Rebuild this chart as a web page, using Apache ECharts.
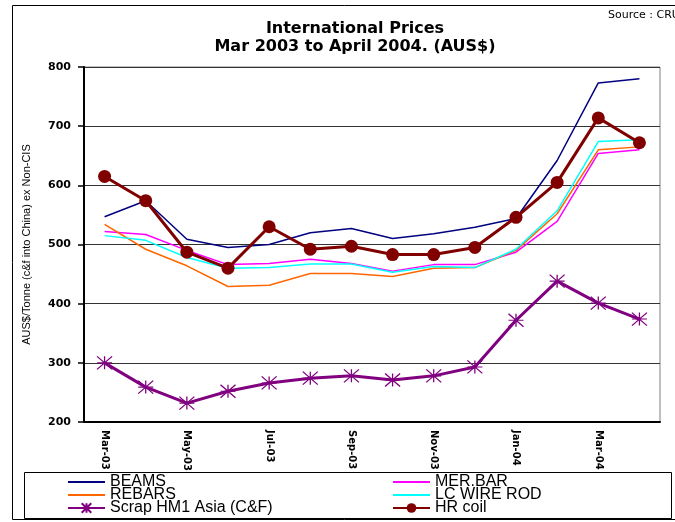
<!DOCTYPE html>
<html>
<head>
<meta charset="utf-8">
<script src="https://cdn.jsdelivr.net/npm/echarts@6/dist/echarts.min.js"></script>
<style>
  html, body { margin: 0; padding: 0; background: #fff; }
  #chart { width: 675px; height: 522px; }
</style>
</head>
<body>
<div id="chart"></div>
<script>
// Monthly categories, March 2003 to April 2004
const months = ['Mar-03', 'Apr-03', 'May-03', 'Jun-03', 'Jul-03', 'Aug-03', 'Sep-03',
                'Oct-03', 'Nov-03', 'Dec-03', 'Jan-04', 'Feb-04', 'Mar-04', 'Apr-04'];

// Prices, AUS$ per tonne
const beams      = [547, 574, 509, 495, 500, 520, 527, 510, 518, 529, 544, 642, 773, 780];
const merBar     = [522, 517, 490, 466, 468, 475, 468, 455, 466, 466, 487, 539, 654, 660];
const rebars     = [534, 492, 464, 429, 431, 451, 451, 446, 460, 461, 490, 552, 660, 665];
const lcWireRod  = [515, 507, 478, 460, 461, 467, 467, 453, 463, 461, 492, 557, 674, 677];
const scrapHM1   = [300, 259, 232, 252, 266, 274, 278, 271, 278, 293, 372, 438, 401, 374];
const hrCoil     = [615, 574, 487, 460, 530, 492, 497, 483, 483, 495, 546, 605, 714, 672];

const yTicks = { min: 200, max: 800, step: 100 };

const SANS = '"Liberation Sans", Arial, sans-serif';
const WIDE = '"DejaVu Sans", Verdana, sans-serif';
const asterisk = 'path://M0,0L10,10M10,0L0,10M5,0L5,10M0,5L10,5';

const chart = echarts.init(document.getElementById('chart'), null, { renderer: 'canvas' });

function plainLine(name, data, color) {
  return {
    name, type: 'line', data, symbol: 'none',
    lineStyle: { color, width: 1.5 },
    itemStyle: { color }
  };
}

// One legend entry per slot of the two-column key box
function legendSlot(name, left, rowCenter, lineOnly) {
  const entry = lineOnly
    ? { name, itemStyle: { color: 'rgba(0,0,0,0)', borderWidth: 0 } }
    : name;
  return {
    data: [entry], left, top: rowCenter - 8, padding: 0,
    itemWidth: 37, itemHeight: 12,
    textStyle: { fontFamily: SANS, fontSize: 16, color: '#000' }
  };
}

chart.setOption({
  backgroundColor: '#fff',
  animation: false,
  title: {
    text: 'International Prices\nMar 2003 to April 2004. (AUS$)',
    left: 350, top: 15, textAlign: 'center',
    textStyle: { fontFamily: WIDE, fontSize: 16, fontWeight: 'bold', color: '#000', lineHeight: 18 }
  },
  graphic: [
    { type: 'rect', shape: { x: 12.5, y: 5.5, width: 700, height: 514 },
      style: { fill: 'none', stroke: '#000', lineWidth: 1 }, z: -1 },
    { type: 'text', left: 608, top: 10,
      style: { text: 'Source : CRU', font: '11px ' + WIDE, fill: '#000' } },
    { type: 'rect', shape: { x: 24.5, y: 472.5, width: 647, height: 46 },
      style: { fill: 'none', stroke: '#000', lineWidth: 1 } }
  ],
  grid: {
    left: 84, right: 15, top: 67, bottom: 100,
    show: true, borderColor: '#808080', borderWidth: 1
  },
  legend: [
    legendSlot('BEAMS', 67, 482, true),
    legendSlot('REBARS', 67, 495, true),
    legendSlot('Scrap HM1 Asia (C&F)', 67, 508, false),
    legendSlot('MER.BAR', 392, 482, true),
    legendSlot('LC WIRE ROD', 392, 495, true),
    legendSlot('HR coil', 392, 508, false)
  ],
  xAxis: {
    type: 'category',
    data: months,
    boundaryGap: true,
    axisLine: { lineStyle: { color: '#000', width: 2 } },
    axisTick: { interval: 1, length: 4, lineStyle: { color: '#000', width: 1.5 } },
    axisLabel: {
      interval: 1, rotate: -90, margin: 8,
      fontFamily: WIDE, fontSize: 10, fontWeight: 'bold', color: '#000'
    },
    splitLine: { show: false }
  },
  yAxis: {
    type: 'value',
    min: yTicks.min, max: yTicks.max, interval: yTicks.step,
    name: 'AUS$/Tonne (c&f into China) ex Non-CIS',
    nameLocation: 'middle', nameGap: 52, nameRotate: 90,
    nameTextStyle: { fontFamily: SANS, fontSize: 11, color: '#000' },
    axisLine: { show: true, lineStyle: { color: '#000', width: 2 } },
    axisTick: { show: true, length: 6, lineStyle: { color: '#000', width: 1.5 } },
    axisLabel: { margin: 13, fontFamily: WIDE, fontSize: 11, fontWeight: 'bold', color: '#000' },
    splitLine: { lineStyle: { color: '#333', width: 1 } }
  },
  series: [
    plainLine('BEAMS', beams, '#000080'),
    plainLine('MER.BAR', merBar, '#FF00FF'),
    plainLine('REBARS', rebars, '#FF6600'),
    plainLine('LC WIRE ROD', lcWireRod, '#00FFFF'),
    {
      name: 'Scrap HM1 Asia (C&F)', type: 'line', data: scrapHM1,
      symbol: asterisk, symbolSize: [15, 13],
      lineStyle: { color: '#800080', width: 3 },
      itemStyle: { color: '#800080', borderColor: '#800080', borderWidth: 1.2 }
    },
    {
      name: 'HR coil', type: 'line', data: hrCoil,
      symbol: 'circle', symbolSize: 13,
      lineStyle: { color: '#800000', width: 3 },
      itemStyle: { color: '#800000' }
    }
  ]
});
</script>
</body>
</html>
